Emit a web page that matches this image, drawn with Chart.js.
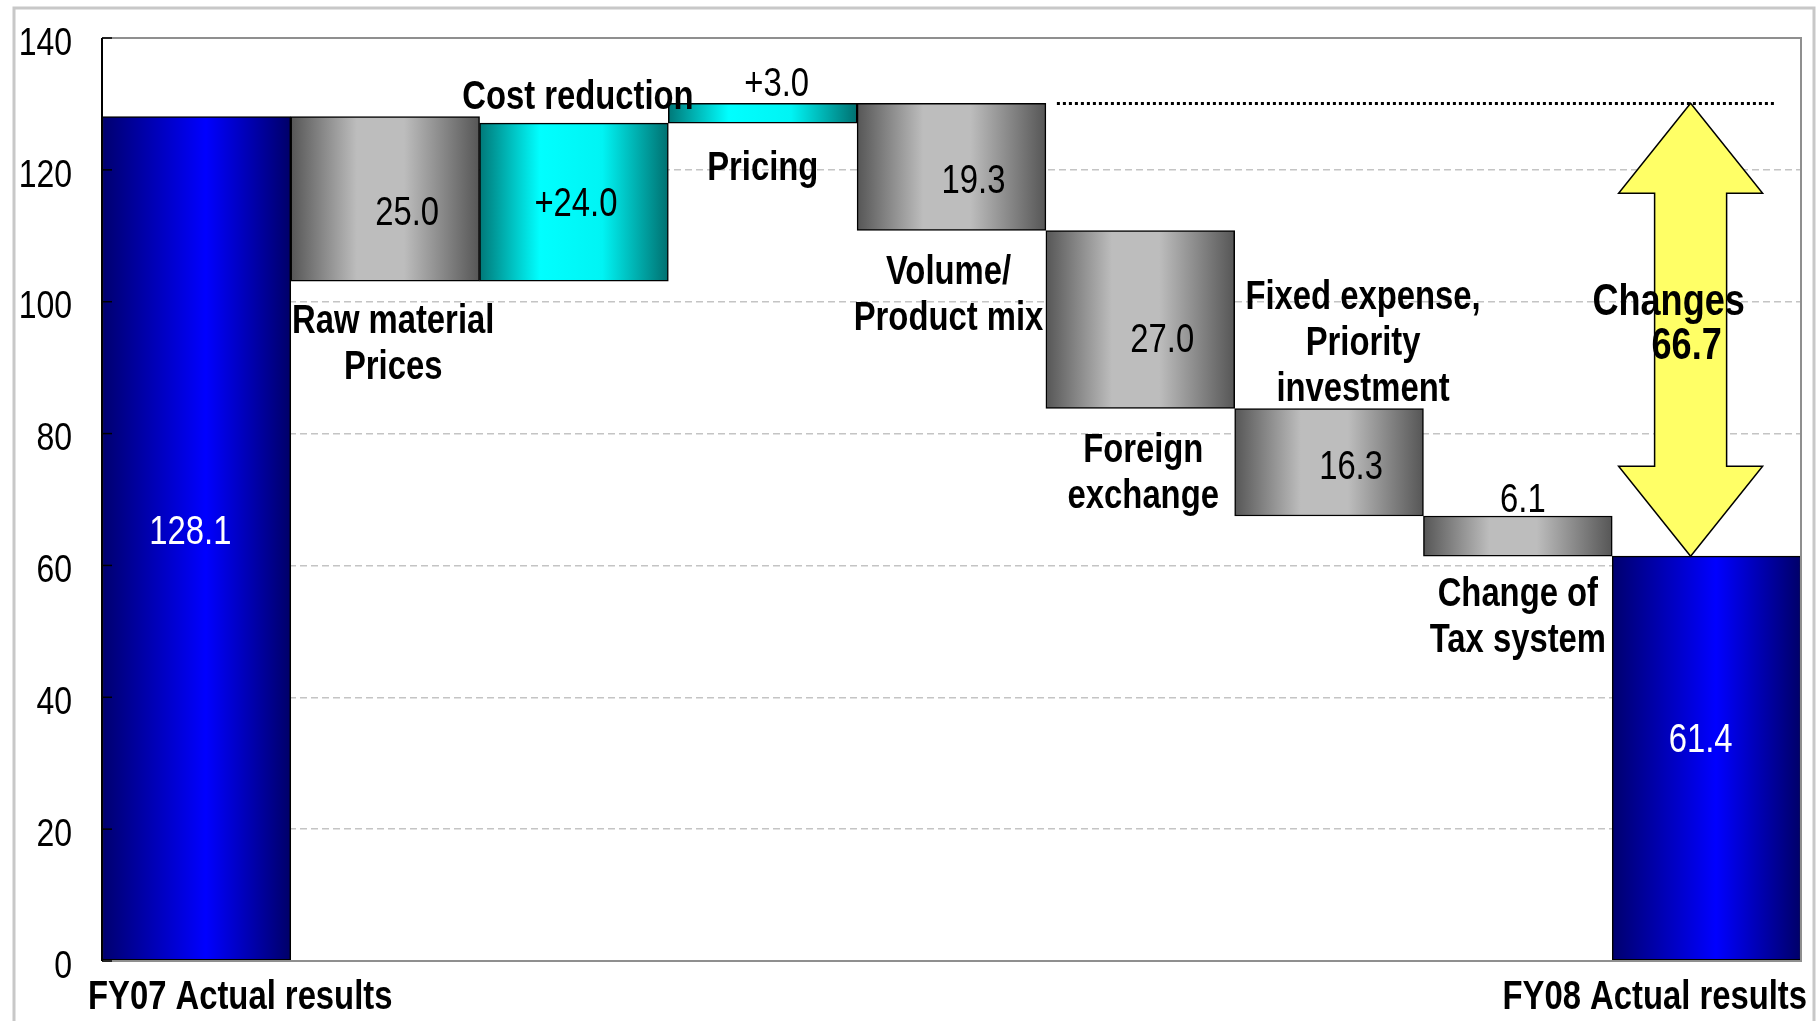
<!DOCTYPE html>
<html>
<head>
<meta charset="utf-8">
<title>FY08 net income change</title>
<script src="https://cdn.jsdelivr.net/npm/chart.js@4.4.1/dist/chart.umd.min.js"></script>
<style>
  html, body { margin: 0; padding: 0; background: #fff; }
  #wrap { width: 1820px; height: 1021px; position: relative; }
</style>
</head>
<body>
<div id="wrap"><canvas id="bridge"></canvas></div>
<script>
// --- data ---
const categories = ['FY07 Actual results', 'Raw material Prices', 'Cost reduction', 'Pricing',
  'Volume/Product mix', 'Foreign exchange', 'Fixed expense, Priority investment',
  'Change of Tax system', 'FY08 Actual results'];
const categoryLines = [['FY07 Actual results'], ['Raw material', 'Prices'], ['Cost reduction'], ['Pricing'],
  ['Volume/', 'Product mix'], ['Foreign', 'exchange'], ['Fixed expense,', 'Priority', 'investment'],
  ['Change of', 'Tax system'], ['FY08 Actual results']];
const startValue = 128.1;
const steps = [-25.0, 24.0, 3.0, -19.3, -27.0, -16.3, -6.1];
const endValue = 61.4;
const changeValue = 66.7;
const yTicks = [0, 20, 40, 60, 80, 100, 120, 140];

// label placement around each bar
const nameSide = [null, 'below', 'above', 'below', 'below', 'below', 'above', 'below', null];
const nameShift = [0, 8, 4, 0, -3, 3, 34, 0, 0];
const nameNudge = [0, 2, 0, 7, 3, 3, 6, 0, 0];
const valueNudge = [6, 4, -8, 0, 4, 10, -5, 3, -6];

const FONT = '"Liberation Sans", Arial, sans-serif';
const SQUEEZE = 0.82; // condensed look of the labels

// build floating ranges for the bridge
const ranges = [[0, startValue]];
const kinds = ['total'];
const valueText = [startValue.toFixed(1)];
let level = startValue;
steps.forEach(d => {
  const next = Math.round((level + d) * 10) / 10;
  ranges.push([Math.min(level, next), Math.max(level, next)]);
  kinds.push(d < 0 ? 'down' : 'up');
  valueText.push(d < 0 ? Math.abs(d).toFixed(1) : '+' + d.toFixed(1));
  level = next;
});
ranges.push([0, endValue]);
kinds.push('total');
valueText.push(endValue.toFixed(1));

const fills = {
  total: [[0, '#00006e'], [0.55, '#0000ff'], [1, '#000068']],
  down:  [[0, '#565656'], [0.35, '#bdbdbd'], [0.6, '#bdbdbd'], [1, '#565656']],
  up:    [[0, '#007878'], [0.32, '#00ffff'], [0.65, '#00f4f4'], [1, '#007070']]
};

function barFill(chart, i) {
  const xs = chart.scales.x;
  if (!xs || !xs.width) return '#888';
  const half = xs.width / categories.length / 2;
  const cx = xs.getPixelForValue(i);
  const g = chart.ctx.createLinearGradient(cx - half, 0, cx + half, 0);
  fills[kinds[i]].forEach(([o, c]) => g.addColorStop(o, c));
  return g;
}

// text drawn narrower than the regular face
function drawLines(ctx, lines, x, firstY, lineH, align) {
  ctx.textAlign = align || 'center';
  ctx.textBaseline = 'middle';
  lines.forEach((t, k) => {
    ctx.save();
    ctx.translate(x, firstY + 3 + k * lineH);
    ctx.scale(SQUEEZE, 1);
    ctx.fillText(t, 0, 0);
    ctx.restore();
  });
}

const bridgeDecor = {
  id: 'bridgeDecor',
  beforeDraw(chart) {
    const ctx = chart.ctx;
    ctx.save();
    ctx.fillStyle = '#fff';
    ctx.fillRect(0, 0, chart.width, chart.height);
    // outer frame
    ctx.strokeStyle = '#c8c8c8';
    ctx.lineWidth = 3;
    ctx.beginPath();
    ctx.moveTo(14, chart.height + 5);
    ctx.lineTo(14, 8);
    ctx.lineTo(1814, 8);
    ctx.lineTo(1814, chart.height + 5);
    ctx.stroke();
    ctx.restore();
  },
  afterDatasetsDraw(chart) {
    const ctx = chart.ctx;
    const area = chart.chartArea;
    const x = chart.scales.x, y = chart.scales.y;
    const half = x.width / categories.length / 2;

    ctx.save();
    // plot frame
    ctx.strokeStyle = '#8f8f8f';
    ctx.lineWidth = 2;
    ctx.beginPath();
    ctx.moveTo(area.left, area.top);
    ctx.lineTo(area.right, area.top);
    ctx.lineTo(area.right, area.bottom);
    ctx.lineTo(area.left, area.bottom);
    ctx.stroke();
    ctx.strokeStyle = '#000';
    ctx.beginPath();
    ctx.moveTo(area.left, area.top);
    ctx.lineTo(area.left, area.bottom);
    ctx.stroke();
    // inward tick marks and tick labels
    ctx.lineWidth = 1.5;
    ctx.fillStyle = '#000';
    ctx.font = '39px ' + FONT;
    yTicks.forEach(v => {
      const py = y.getPixelForValue(v);
      ctx.beginPath();
      ctx.moveTo(area.left, py);
      ctx.lineTo(area.left + 10, py);
      ctx.stroke();
      drawLines(ctx, [String(v)], area.left - 30, py + 3, 0, 'right');
    });

    // dotted reference at the peak level, and the change arrow
    const peak = Math.max(...ranges.slice(1, -1).map(r => r[1]));
    const yPeak = y.getPixelForValue(peak);
    const yEnd = y.getPixelForValue(endValue);
    ctx.setLineDash([3, 3]);
    ctx.lineWidth = 3;
    ctx.strokeStyle = '#000';
    ctx.beginPath();
    ctx.moveTo(x.getPixelForValue(5) - half + 11, Math.round(yPeak) + 0.5);
    ctx.lineTo(area.right - 25, Math.round(yPeak) + 0.5);
    ctx.stroke();
    ctx.setLineDash([]);

    const ax = x.getPixelForValue(categories.length - 1) - 16;
    const headW = 72, shaftW = 36, headL = 90;
    ctx.beginPath();
    ctx.moveTo(ax, yPeak);
    ctx.lineTo(ax + headW, yPeak + headL);
    ctx.lineTo(ax + shaftW, yPeak + headL);
    ctx.lineTo(ax + shaftW, yEnd - headL);
    ctx.lineTo(ax + headW, yEnd - headL);
    ctx.lineTo(ax, yEnd);
    ctx.lineTo(ax - headW, yEnd - headL);
    ctx.lineTo(ax - shaftW, yEnd - headL);
    ctx.lineTo(ax - shaftW, yPeak + headL);
    ctx.lineTo(ax - headW, yPeak + headL);
    ctx.closePath();
    ctx.fillStyle = '#ffff66';
    ctx.fill();
    ctx.strokeStyle = '#000';
    ctx.lineWidth = 1.5;
    ctx.stroke();

    const lineH = 46;
    // value labels
    ctx.font = '40px ' + FONT;
    ranges.forEach((r, i) => {
      const cx = x.getPixelForValue(i);
      const yTop = y.getPixelForValue(r[1]);
      const yBot = y.getPixelForValue(r[0]);
      const mid = (yTop + yBot) / 2 + valueNudge[i];
      if (kinds[i] === 'total') {
        ctx.fillStyle = '#fff';
        drawLines(ctx, [valueText[i]], cx - 6, mid - 15, lineH);
      } else if (yBot - yTop < 60) {
        ctx.fillStyle = '#000';
        drawLines(ctx, [valueText[i]], cx + (kinds[i] === 'up' ? 14 : 5), yTop - 21 + valueNudge[i], lineH);
      } else {
        ctx.fillStyle = '#000';
        drawLines(ctx, [valueText[i]], cx + (kinds[i] === 'up' ? 2 : 22), mid + 8, lineH);
      }
    });

    // step names
    ctx.font = 'bold 40px ' + FONT;
    ctx.fillStyle = '#000';
    ranges.forEach((r, i) => {
      const side = nameSide[i];
      if (!side) return;
      const cx = x.getPixelForValue(i) + nameShift[i];
      const lines = categoryLines[i];
      if (side === 'below') {
        const yBot = y.getPixelForValue(r[0]);
        drawLines(ctx, lines, cx, yBot + 36 + nameNudge[i], lineH);
      } else {
        const yTop = y.getPixelForValue(r[1]);
        drawLines(ctx, lines, cx, yTop - 28 - (lines.length - 1) * lineH + nameNudge[i], lineH);
      }
    });

    // totals along the base
    drawLines(ctx, categoryLines[0], area.left - 14, area.bottom + 34, lineH, 'left');
    drawLines(ctx, categoryLines[categories.length - 1], area.right + 6, area.bottom + 34, lineH, 'right');

    // arrow caption
    const yMid = (yPeak + yEnd) / 2;
    ctx.font = 'bold 44px ' + FONT;
    drawLines(ctx, ['Changes'], ax - 22, yMid - 30, lineH);
    drawLines(ctx, [changeValue.toFixed(1)], ax - 4, yMid + 14, lineH);
    ctx.restore();
  }
};

new Chart(document.getElementById('bridge'), {
  type: 'bar',
  data: {
    labels: categories,
    datasets: [{
      data: ranges,
      backgroundColor: c => barFill(c.chart, c.dataIndex),
      borderColor: '#000',
      borderWidth: 1.5,
      borderSkipped: false,
      categoryPercentage: 1,
      barPercentage: 1
    }]
  },
  options: {
    responsive: true,
    maintainAspectRatio: false,
    animation: false,
    layout: { padding: { left: 0, top: 38, right: 19, bottom: 60 } },
    plugins: { legend: { display: false }, tooltip: { enabled: false } },
    scales: {
      x: { display: false, offset: true },
      y: {
        min: 0,
        max: 140,
        afterFit: s => { s.width = 102; },
        afterBuildTicks: s => { s.ticks = yTicks.map(v => ({ value: v })); },
        ticks: { display: false },
        grid: {
          drawTicks: false,
          lineWidth: 1.5,
          color: c => (c.tick.value === 0 || c.tick.value === 140) ? 'rgba(0,0,0,0)' : '#c4c4c4'
        },
        border: { display: false, dash: [7, 4] }
      }
    }
  },
  plugins: [bridgeDecor]
});
</script>
</body>
</html>
